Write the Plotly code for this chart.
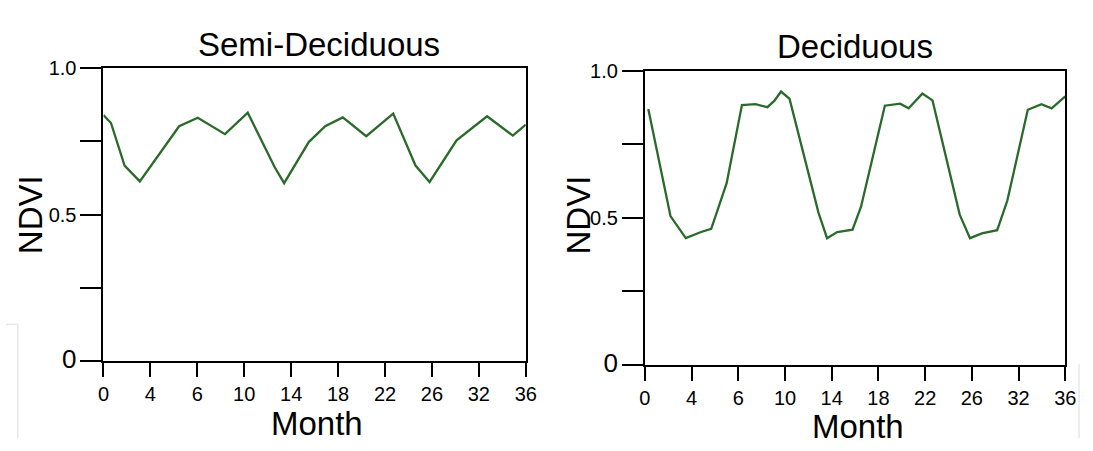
import plotly.graph_objects as go

# Semi-deciduous NDVI profile (month, value)
semi_month = [0, 0.64, 1.8, 3.1, 6.45, 8.04, 10.36, 12.3, 14.6, 15.4, 17.5, 18.9,
              20.4, 22.4, 24.7, 26.6, 27.8, 30.1, 32.7, 34.9, 36]
semi_ndvi = [0.839, 0.812, 0.667, 0.613, 0.801, 0.830, 0.774, 0.847, 0.661, 0.607, 0.747, 0.801,
             0.831, 0.767, 0.844, 0.667, 0.611, 0.753, 0.835, 0.769, 0.806]

# Deciduous NDVI profile (month, value)
dec_month = [0.29, 2.19, 3.5, 4.81, 5.68, 7.0, 8.31, 9.47, 10.49, 11.08, 11.66, 12.39,
             14.87, 15.6, 16.47, 17.78, 18.51, 20.55, 21.86, 22.59, 23.17, 23.76, 24.63,
             26.96, 27.84, 28.86, 30.17, 31.04, 32.79, 33.96, 34.83, 36]
dec_ndvi = [0.870, 0.506, 0.431, 0.452, 0.463, 0.618, 0.883, 0.886, 0.876, 0.897, 0.929, 0.904,
            0.517, 0.431, 0.452, 0.460, 0.538, 0.881, 0.888, 0.872, 0.897, 0.922, 0.899,
            0.511, 0.431, 0.447, 0.458, 0.559, 0.867, 0.886, 0.872, 0.913]

# tick labels as printed on the original figure (evenly spaced)
tick_pos = [0, 4, 8, 12, 16, 20, 24, 28, 32, 36]
tick_labels = ["0", "4", "6", "10", "14", "18", "22", "26", "32", "36"]
y_tick_pos = [0, 0.25, 0.5, 0.75, 1.0]
y_tick_labels = ["<span style='font-size:26px'>0</span>", "", "0.5", "", "1.0"]

W, H = 1093, 451
FONT = "Liberation Sans, Arial, sans-serif"
GREEN = "#2a6a2a"

fig = go.Figure()
fig.add_trace(go.Scatter(x=semi_month, y=semi_ndvi, mode="lines",
                         line=dict(color=GREEN, width=2.3), xaxis="x", yaxis="y"))
fig.add_trace(go.Scatter(x=dec_month, y=dec_ndvi, mode="lines",
                         line=dict(color=GREEN, width=2.3), xaxis="x2", yaxis="y2"))

xax = dict(range=[0, 36], tickvals=tick_pos, ticktext=tick_labels,
           ticks="outside", ticklen=14, tickwidth=2, tickcolor="black",
           showline=True, linewidth=2, linecolor="black", mirror=True,
           showgrid=False, zeroline=False, ticklabeloverflow="allow",
           tickfont=dict(family=FONT, size=20, color="black"))
yax = dict(range=[0, 1], tickvals=y_tick_pos, ticktext=y_tick_labels,
           ticks="outside", ticklen=21, tickwidth=1.5, tickcolor="black",
           showline=True, linewidth=2, linecolor="black", mirror=True,
           showgrid=False, zeroline=False,
           tickfont=dict(family=FONT, size=20, color="black"))

fig.update_layout(
    width=W, height=H,
    margin=dict(l=0, r=0, t=0, b=0),
    paper_bgcolor="white", plot_bgcolor="white",
    showlegend=False,
    xaxis=dict(xax, domain=[99 / W, 528 / W], anchor="y"),
    yaxis=dict(yax, domain=[1 - 370 / H, 1 - 60 / H], anchor="x"),
    xaxis2=dict(xax, domain=[649 / W, 1076 / W], anchor="y2"),
    yaxis2=dict(yax, domain=[1 - 374 / H, 1 - 63 / H], anchor="x2"),
)

# titles and axis labels
labels = [
    ("Semi-Deciduous", 318, 35, 33, 0),
    ("Deciduous", 862, 38, 33, 0),
    ("Month", 316, 436, 33, 0),
    ("Month", 865, 439, 33, 0),
    ("NDVI", 25, 215, 33, -90),
    ("NDVI", 582, 215, 33, -90),
]
for text, px, py, size, ang in labels:
    fig.add_annotation(text=text, x=px / W, y=1 - py / H, xref="paper", yref="paper",
                       showarrow=False, textangle=ang, xanchor="center", yanchor="middle",
                       font=dict(family=FONT, size=size, color="black"))

# faint scan artefacts around the figure
faint = dict(color="#e8e8e8", width=1.5)
fig.add_shape(type="line", x0=12 / W, x1=12 / W, y0=0, y1=1 - 331 / H,
              xref="paper", yref="paper", line=faint)
fig.add_shape(type="line", x0=0, x1=12 / W, y0=1 - 331 / H, y1=1 - 331 / H,
              xref="paper", yref="paper", line=faint)
fig.add_shape(type="line", x0=1090 / W, x1=1090 / W, y0=0, y1=1 - 373 / H,
              xref="paper", yref="paper", line=faint)

# remove page margin and scrollbars so the figure fills the window exactly
page_fix = ("document.body.style.margin='0';"
            "document.body.style.overflow='hidden';"
            "document.documentElement.style.overflow='hidden';")
fig.write_html("out.html", config={"displayModeBar": False}, post_script=page_fix)
